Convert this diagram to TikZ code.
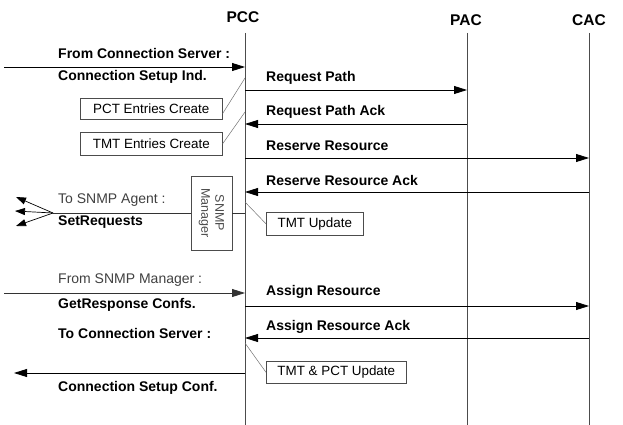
\documentclass[tikz,border=0pt]{standalone}
\usepackage{fontspec}
\setmainfont{Liberation Sans}
\usetikzlibrary{arrows.meta}
\begin{document}
\begin{tikzpicture}[x=1pt,y=-1pt,
  head/.style={inner sep=0pt,font=\fontsize{15.5}{18}\selectfont\bfseries},
  life/.style={draw=black!70,line width=0.7pt},
  msg/.style={draw=black,line width=0.8pt,-{Triangle[length=13pt,width=8pt]}},
  smsg/.style={draw=black,line width=0.7pt,-{Triangle[length=10pt,width=7pt]}},
  lbl/.style={anchor=west,inner sep=0pt,font=\fontsize{14}{16}\selectfont\bfseries},
  lbln/.style={anchor=west,inner sep=0pt,font=\fontsize{14}{16}\selectfont,text=black!75},
  note/.style={draw=black!70,line width=0.6pt,inner sep=0pt,anchor=north west,
    font=\fontsize{13.4}{16}\selectfont},
  link/.style={draw=black!55,line width=0.5pt}]
\useasboundingbox (0,0) rectangle (623,425);
% heads and lifelines
\node[head] (PCC) at (243,17) {PCC};
\node[head] (PAC) at (466,20) {PAC};
\node[head] (CAC) at (589,20) {CAC};
\coordinate (pccT) at (245,33); \coordinate (pccB) at (245,425);
\coordinate (pacT) at (467,33); \coordinate (pacB) at (467,425);
\coordinate (cacT) at (589,33); \coordinate (cacB) at (589,425);
\draw[life] (pccT) -- (pccB);
\draw[life] (pacT) -- (pacB);
\draw[life] (cacT) -- (cacB);
% incoming from connection server
\coordinate (cs1) at (4,67);
\draw[msg] (cs1) -- (cs1 -| pccT);
\node[lbl] (t1) at (58,53) {From Connection Server :};
\node[lbl] (t2) at (58,77) {Connection Setup Ind.};
% request path
\coordinate (m1) at (245,90);
\draw[msg] (m1) -- (m1 -| pacT);
\node[lbl] at (266,78) {Request Path};
\coordinate (m2) at (467,124);
\draw[msg] (m2) -- (m2 -| pccT);
\node[lbl] at (266,112) {Request Path Ack};
\coordinate (m3) at (245,158);
\draw[msg] (m3) -- (m3 -| cacT);
\node[lbl] at (266,146) {Reserve Resource};
\coordinate (m4) at (589,192);
\draw[msg] (m4) -- (m4 -| pccT);
\node[lbl] at (266,180) {Reserve Resource Ack};
\coordinate (m5) at (245,306);
\draw[msg] (m5) -- (m5 -| cacT);
\node[lbl] at (266,292) {Assign Resource};
\coordinate (m6) at (589,338);
\draw[msg] (m6) -- (m6 -| pccT);
\node[lbl] at (266,327) {Assign Resource Ack};
% notes
\node[note,minimum width=142pt,minimum height=21pt] (pct) at (80,98) {PCT Entries Create};
\node[note,minimum width=142pt,minimum height=23pt] (tmt) at (80,132) {TMT Entries Create};
\coordinate (pa) at (245,78);
\coordinate (pb) at (245,112);
\draw[link] ([yshift=6pt]pct.south east) -- (pa);
\draw[link] (tmt.east) -- (pb);
\node[note,minimum width=97pt,minimum height=23pt] (upd) at (266,212) {TMT Update};
\coordinate (pc) at (245,202);
\draw[link] (pc) -- (upd.west);
\node[note,minimum width=140pt,minimum height=22pt] (upd2) at (266,361) {TMT \& PCT Update};
\coordinate (pd) at (245,343);
\draw[link] (pd) -- (upd2.west);
% SNMP manager
\node[draw=black!70,line width=0.6pt,rotate=-90,minimum width=74pt,minimum height=41pt,
  inner sep=0pt,align=center,text=black!70,font=\fontsize{12.5}{14}\selectfont] (snmp) at (211.5,213) {SNMP\\Manager};
\draw[line width=0.7pt,draw=black!80] (snmp.north) -- (snmp.north -| pccT);
\coordinate (fork) at (53,213);
\draw[line width=0.7pt,draw=black!80] (snmp.south) -- (fork);
\coordinate (a1) at (16,197);
\coordinate (a2) at (15,211);
\coordinate (a3) at (16,226);
\draw[smsg] (fork) -- (a1);
\draw[smsg] (fork) -- (a2);
\draw[smsg] (fork) -- (a3);
\node[lbln] at (58,200) {To SNMP Agent :};
\node[lbl] at (58,222) {SetRequests};
% from SNMP manager
\coordinate (sm) at (4,293);
\draw[msg,draw=black!80] (sm) -- (sm -| pccT);
\node[lbln] at (58,280) {From SNMP Manager :};
\node[lbl] at (58,305) {GetResponse Confs.};
% to connection server
\coordinate (cs2) at (245,373);
\coordinate (cs2e) at (14,373);
\draw[msg] (cs2) -- (cs2e);
\node[lbl] at (58,333) {To Connection Server :};
\node[lbl] at (58,388) {Connection Setup Conf.};
\end{tikzpicture}
\end{document}
